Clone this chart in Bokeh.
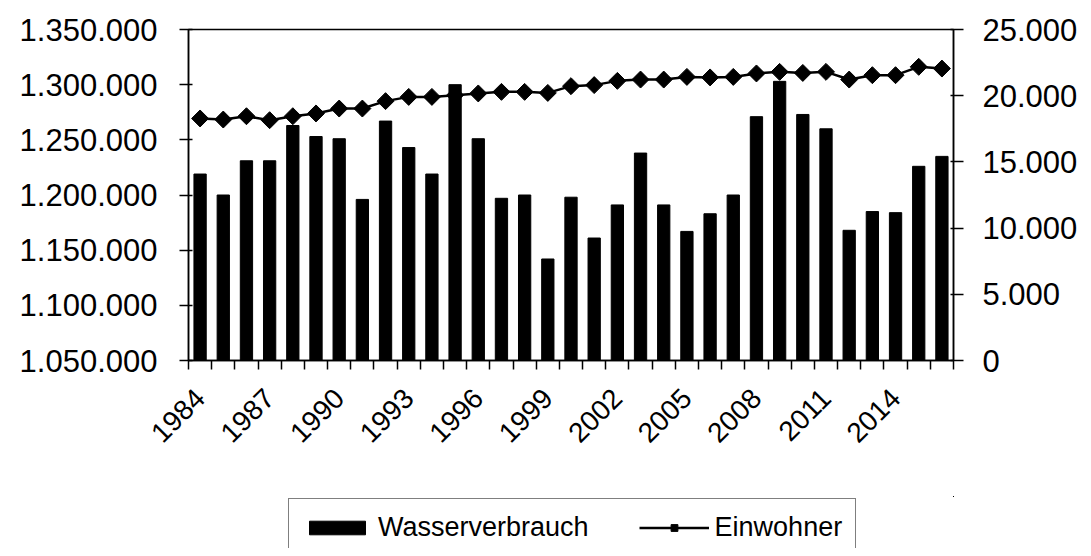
from math import pi
from bokeh.plotting import figure
from bokeh.layouts import column
from bokeh.models import Range1d, LinearAxis, FixedTicker, Legend, LegendItem
from bokeh.embed import file_html
from bokeh.resources import INLINE

years = list(range(1984, 2017))
wasserverbrauch = [1219000, 1200000, 1231000, 1231000, 1263000, 1253000, 1251000, 1196000,
                   1267000, 1243000, 1219000, 1300000, 1251000, 1197000, 1200000, 1142000,
                   1198000, 1161000, 1191000, 1238000, 1191000, 1167000, 1183000, 1200000,
                   1271000, 1303000, 1273000, 1260000, 1168000, 1185000, 1184000, 1226000,
                   1235000]
einwohner = [18280, 18200, 18450, 18150, 18450, 18660, 19030, 19030, 19590, 19910, 19910,
             20040, 20170, 20290, 20290, 20210, 20720, 20800, 21120, 21220, 21220, 21420,
             21380, 21420, 21680, 21800, 21720, 21800, 21220, 21550, 21550, 22180, 22050]

x_tick_years = [1984, 1987, 1990, 1993, 1996, 1999, 2002, 2005, 2008, 2011, 2014]
left_ticks = [1050000, 1100000, 1150000, 1200000, 1250000, 1300000, 1350000]
left_tick_labels = ["1.050.000", "1.100.000", "1.150.000", "1.200.000", "1.250.000",
                    "1.300.000", "1.350.000"]
right_ticks = [0, 5000, 10000, 15000, 20000, 25000]
right_tick_labels = ["0", "5.000", "10.000", "15.000", "20.000", "25.000"]

FONT = "Liberation Sans"
W = 1083


def draw_series(fig):
    b = fig.vbar(x=years, top=wasserverbrauch, bottom=left_ticks[0], width=0.53,
                 fill_color="black", line_color="black")
    ln = fig.line(years, einwohner, y_range_name="right", line_color="black",
                  line_width=2.5)
    sc = fig.scatter(years, einwohner, y_range_name="right", marker="square",
                     angle=pi / 4, size=12, fill_color="black", line_color="black")
    return b, ln, sc


p = figure(width=W, height=496, output_backend="svg", toolbar_location=None,
           x_range=Range1d(years[0] - 0.5, years[-1] + 0.5),
           y_range=Range1d(left_ticks[0], left_ticks[-1]),
           min_border_left=188, min_border_right=130, min_border_top=29,
           min_border_bottom=136)
p.grid.visible = False
p.outline_line_color = "black"
p.outline_line_width = 1.5
p.background_fill_color = "white"
p.border_fill_color = "white"
p.extra_y_ranges = {"right": Range1d(right_ticks[0], right_ticks[-1])}

draw_series(p)

# left axis
yax = p.yaxis[0]
yax.ticker = FixedTicker(ticks=left_ticks)
yax.major_label_overrides = {v: s for v, s in zip(left_ticks, left_tick_labels)}
yax.minor_tick_line_color = None
yax.major_tick_out = 9
yax.major_tick_in = 4
yax.major_label_standoff = 22
yax.axis_line_width = 1.5
yax.major_tick_line_width = 1.5
yax.major_label_text_font = FONT
yax.major_label_text_font_size = "31px"
yax.major_label_text_color = "black"

# right axis
rax = LinearAxis(y_range_name="right")
rax.ticker = FixedTicker(ticks=right_ticks)
rax.major_label_overrides = {v: s for v, s in zip(right_ticks, right_tick_labels)}
rax.minor_tick_line_color = None
rax.major_tick_out = 10
rax.major_tick_in = 3
rax.major_label_standoff = 19
rax.axis_line_width = 1.5
rax.major_tick_line_width = 1.5
rax.major_label_text_font = FONT
rax.major_label_text_font_size = "31px"
rax.major_label_text_color = "black"
p.add_layout(rax, "right")

# x axis
xax = p.xaxis[0]
xax.ticker = FixedTicker(ticks=x_tick_years,
                         minor_ticks=[y - 0.5 for y in years] + [years[-1] + 0.5])
xax.major_label_overrides = {y: str(y) for y in x_tick_years}
xax.major_tick_out = 0
xax.major_tick_in = 0
xax.minor_tick_out = 9
xax.minor_tick_in = 0
xax.minor_tick_line_width = 1.5
xax.axis_line_width = 1.5
xax.major_label_orientation = pi / 4
xax.major_label_standoff = 24
xax.major_label_text_font = FONT
xax.major_label_text_font_size = "28px"
xax.major_label_text_color = "black"

# legend strip (own figure; its series copies lie outside its view)
pl = figure(width=W, height=52, output_backend="svg", toolbar_location=None,
            x_range=Range1d(0, 1), y_range=Range1d(0, 1),
            x_axis_location=None, y_axis_location=None,
            min_border_left=188, min_border_right=130, min_border_top=0,
            min_border_bottom=0)
pl.grid.visible = False
pl.outline_line_color = None
pl.extra_y_ranges = {"right": Range1d(0, 1)}
lb, lln, lsc = draw_series(pl)

legend = Legend(items=[LegendItem(label="Wasserverbrauch", renderers=[lb]),
                       LegendItem(label="Einwohner", renderers=[lln, lsc])],
                orientation="horizontal", location=(100, -9),
                glyph_width=70, glyph_height=17, label_standoff=6, spacing=50,
                padding=13, border_line_color="black", border_line_width=1.2,
                background_fill_alpha=0,
                label_text_font=FONT, label_text_font_size="27px",
                label_text_color="black", margin=0)
pl.add_layout(legend, "center")

layout = column(p, pl, spacing=0)
open("out.html", "w").write(file_html(layout, INLINE))
